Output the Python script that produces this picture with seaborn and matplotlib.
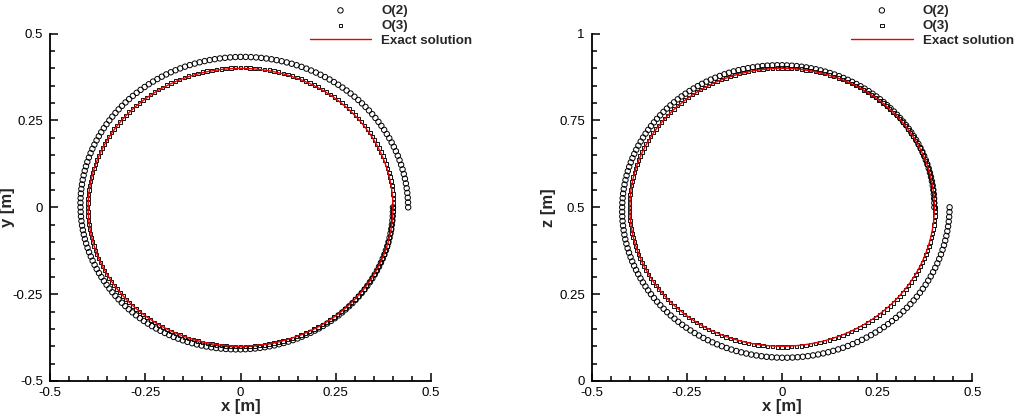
import numpy as np
import pandas as pd
import seaborn as sns
import matplotlib
matplotlib.use("Agg")
import matplotlib.pyplot as plt
from matplotlib.ticker import FixedLocator, FixedFormatter, MultipleLocator

# radius of each trajectory, per angle travelled (deg)
turn_deg = [0, 45, 90, 135, 180, 225, 270, 315, 360]
o2_radius = [0.400, 0.403, 0.409, 0.415, 0.420, 0.427, 0.433, 0.437, 0.440]
o3_radius = [0.400, 0.400, 0.401, 0.401, 0.401, 0.401, 0.402, 0.402, 0.402]
exact_radius = 0.40
n_steps = 200

panels = [
    # (vertical label, centre of orbit, sense of rotation, tick values, tick labels)
    ("y [m]", 0.0, -1, [-0.5, -0.25, 0, 0.25, 0.5], ["-0.5", "-0.25", "0", "0.25", "0.5"]),
    ("z [m]", 0.5, 1, [0, 0.25, 0.5, 0.75, 1], ["0", "0.25", "0.5", "0.75", "1"]),
]
x_ticks = [-0.5, -0.25, 0, 0.25, 0.5]
x_labels = ["-0.5", "-0.25", "0", "0.25", "0.5"]

sns.set_style("ticks")
plt.rcParams["font.family"] = ["Liberation Sans", "DejaVu Sans"]


def orbit(radii, centre, sense):
    ang = np.linspace(0, 360, n_steps + 1)
    r = np.interp(ang, turn_deg, radii)
    t = np.deg2rad(ang) * sense
    return pd.DataFrame({"h": r * np.cos(t), "v": centre + r * np.sin(t)})


fig = plt.figure(figsize=(10.19, 4.20), dpi=100)
positions = [[0.0491, 0.0929, 0.3739, 0.827], [0.5807, 0.0929, 0.3736, 0.827]]

for pos, (ylab, centre, sense, yt, ytl) in zip(positions, panels):
    ax = fig.add_axes(pos)
    o2 = orbit(o2_radius, centre, sense)
    o3 = orbit(o3_radius, centre, sense)
    ex = orbit([exact_radius] * len(turn_deg), centre, sense)

    sns.scatterplot(data=o2, x="h", y="v", ax=ax, marker="o", s=15,
                    facecolor="none", edgecolor="black", linewidth=0.7,
                    label="O(2)", zorder=3)
    sns.scatterplot(data=o3, x="h", y="v", ax=ax, marker="s", s=6,
                    facecolor="none", edgecolor="#111111", linewidth=0.7,
                    label="O(3)", zorder=2)
    sns.lineplot(data=ex, x="h", y="v", ax=ax, sort=False, estimator=None,
                 color="#ee0000", linewidth=1.0, label="Exact solution", zorder=4)

    ax.set_xlim(-0.5, 0.5)
    ax.set_ylim(yt[0], yt[-1])
    ax.xaxis.set_major_locator(FixedLocator(x_ticks))
    ax.xaxis.set_major_formatter(FixedFormatter(x_labels))
    ax.yaxis.set_major_locator(FixedLocator(yt))
    ax.yaxis.set_major_formatter(FixedFormatter(ytl))
    ax.xaxis.set_minor_locator(MultipleLocator(0.05))
    ax.yaxis.set_minor_locator(MultipleLocator(0.05))
    ax.tick_params(which="both", direction="in", width=1.1, colors="black",
                   labelsize=9.5)
    ax.tick_params(which="major", length=6)
    ax.tick_params(which="minor", length=3.5)
    ax.tick_params(axis="y", pad=5)
    ax.tick_params(axis="x", pad=4)
    for side in ["top", "right"]:
        ax.spines[side].set_visible(False)
    for side in ["left", "bottom"]:
        ax.spines[side].set_linewidth(1.3)
        ax.spines[side].set_color("black")
    ax.set_xlabel("x [m]", fontsize=12, fontweight="bold", labelpad=0)
    ax.set_ylabel(ylab, fontsize=12, fontweight="bold")
    ax.yaxis.set_label_coords(-0.093, 0.5)

    bb = ax.get_position()
    ax.legend(loc="upper right", bbox_to_anchor=(bb.x1 + 0.047, 1.005),
              bbox_transform=fig.transFigure, frameon=False, borderpad=0,
              prop={"weight": "bold", "size": 9.6},
              handlelength=4.6, handletextpad=0.75, labelspacing=0.2,
              scatterpoints=1)

fig.savefig("out.png", dpi=100)
